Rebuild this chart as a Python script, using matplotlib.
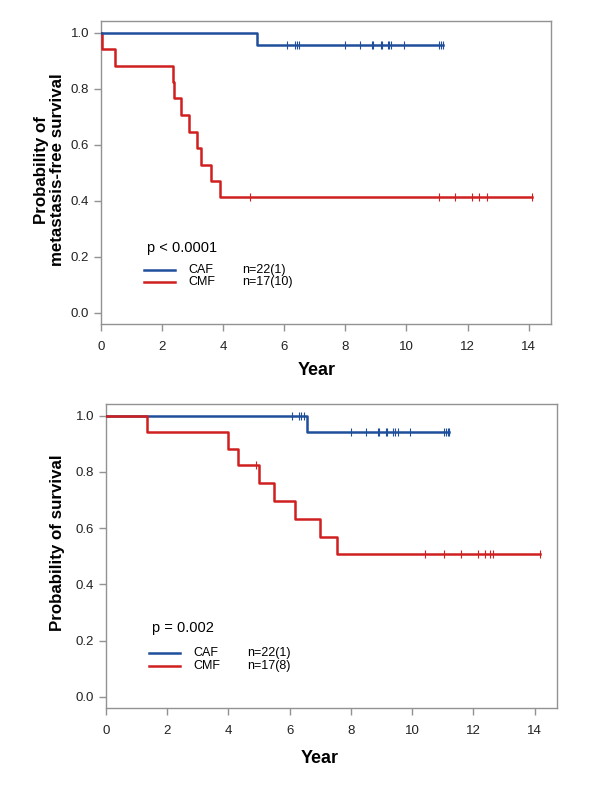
import numpy as np
import matplotlib
matplotlib.use("Agg")
import matplotlib.pyplot as plt

plt.rcParams['font.family'] = ['Liberation Sans', 'DejaVu Sans']

BLUE = '#1f4f9a'
RED = '#d01f1f'
GREY = '#929292'

# --- top panel: metastasis-free survival ---
top_caf_event_t = [5.11]
top_caf_surv = [0.955]
top_caf_cens = [6.09, 6.35, 6.42, 6.49, 8.00, 8.49, 8.87, 8.92, 9.16, 9.21,
                9.38, 9.43, 9.50, 9.91, 11.05, 11.12, 11.18]
top_cmf_event_t = [0.02, 0.46, 2.37, 2.40, 2.62, 2.88, 3.15, 3.27, 3.60, 3.90]
top_cmf_surv = [0.941, 0.882, 0.824, 0.765, 0.706, 0.647, 0.588, 0.529, 0.471, 0.412]
top_cmf_cens = [4.87, 11.05, 11.59, 12.14, 12.39, 12.64, 14.10]

# --- bottom panel: overall survival ---
bot_caf_event_t = [6.56]
bot_caf_surv = [0.941]
bot_caf_cens = [6.08, 6.31, 6.38, 6.46, 8.00, 8.49, 8.88, 8.92, 9.13, 9.19,
                9.38, 9.45, 9.54, 9.93, 11.03, 11.09, 11.16, 11.20]
bot_cmf_event_t = [1.35, 3.98, 4.31, 4.98, 5.50, 6.16, 7.00, 7.54]
bot_cmf_surv = [0.941, 0.882, 0.824, 0.760, 0.697, 0.634, 0.570, 0.507]
bot_cmf_cens = [4.89, 10.41, 11.04, 11.60, 12.14, 12.38, 12.55, 12.63, 14.17]

groups = ['CAF', 'CMF']
top_counts = ['n=22(1)', 'n=17(10)']
bot_counts = ['n=22(1)', 'n=17(8)']
top_p = 'p < 0.0001'
bot_p = 'p = 0.002'
top_ylabel = 'Probability of\nmetastasis-free survival'
bot_ylabel = 'Probability of survival'


def km_curve(ax, event_t, surv, cens, color):
    end = max(cens + event_t)
    x = np.array([0.0] + event_t + [end])
    y = np.array([1.0] + surv + [surv[-1]])
    ax.plot(x, y, drawstyle='steps-post', color=color, lw=1.8, zorder=3)
    # censor marks sit on the curve level at their time
    idx = np.searchsorted(x, cens, side='right') - 1
    ax.plot(cens, y[idx], ls='none', marker='|', ms=6, mew=0.8,
            color=color, zorder=4)


def style_axes(ax):
    ax.set_xlim(0, 14.72)
    ax.set_ylim(-0.041, 1.041)
    ax.set_xticks(range(0, 15, 2))
    ax.set_yticks(np.arange(0, 1.01, 0.2))
    ax.set_yticklabels([f'{v:.1f}' for v in np.arange(0, 1.01, 0.2)])
    for s in ax.spines.values():
        s.set_color(GREY)
        s.set_linewidth(1.0)
    ax.tick_params(colors=GREY, labelcolor='#222222', labelsize=9.5,
                   length=5, width=1.0, direction='out')
    ax.tick_params(axis='x', pad=7)


def legend(ax, ptext, counts, px, py, ly):
    ax.text(px, py, ptext, transform=ax.transAxes, fontsize=10.5,
            va='center', ha='left')
    for lab, cnt, col, yy in zip(groups, counts, [BLUE, RED], ly):
        ax.plot([px - 0.005, px + 0.062], [yy, yy], transform=ax.transAxes,
                color=col, lw=1.8)
        ax.text(px + 0.092, yy, lab, transform=ax.transAxes, fontsize=9,
                va='center', ha='left')
        ax.text(px + 0.212, yy, cnt, transform=ax.transAxes, fontsize=9,
                va='center', ha='left')


fig = plt.figure(figsize=(6, 7.87), dpi=100)
ax1 = fig.add_axes([0.1683, 0.5877, 0.7495, 0.3856])
ax2 = fig.add_axes([0.1767, 0.1000, 0.7512, 0.3863])

km_curve(ax1, top_cmf_event_t, top_cmf_surv, top_cmf_cens, RED)
km_curve(ax1, top_caf_event_t, top_caf_surv, top_caf_cens, BLUE)
km_curve(ax2, bot_caf_event_t, bot_caf_surv, bot_caf_cens, BLUE)
km_curve(ax2, bot_cmf_event_t, bot_cmf_surv, bot_cmf_cens, RED)

for ax in (ax1, ax2):
    style_axes(ax)
    ax.set_xlabel('Year', fontsize=13, fontweight='bold', va='center')

ax1.xaxis.set_label_coords(0.48, -0.15)
ax2.xaxis.set_label_coords(0.473, -0.164)

ax1.set_ylabel(top_ylabel, fontsize=12.2, fontweight='bold', va='center',
               linespacing=1.1)
ax1.yaxis.set_label_coords(-0.115, 0.51)
ax2.set_ylabel(bot_ylabel, fontsize=12.2, fontweight='bold', va='center')
ax2.yaxis.set_label_coords(-0.108, 0.544)

legend(ax1, top_p, top_counts, 0.1016, 0.252, [0.1796, 0.140])
legend(ax2, bot_p, bot_counts, 0.1014, 0.264, [0.183, 0.139])

fig.savefig('out.png', dpi=100)
